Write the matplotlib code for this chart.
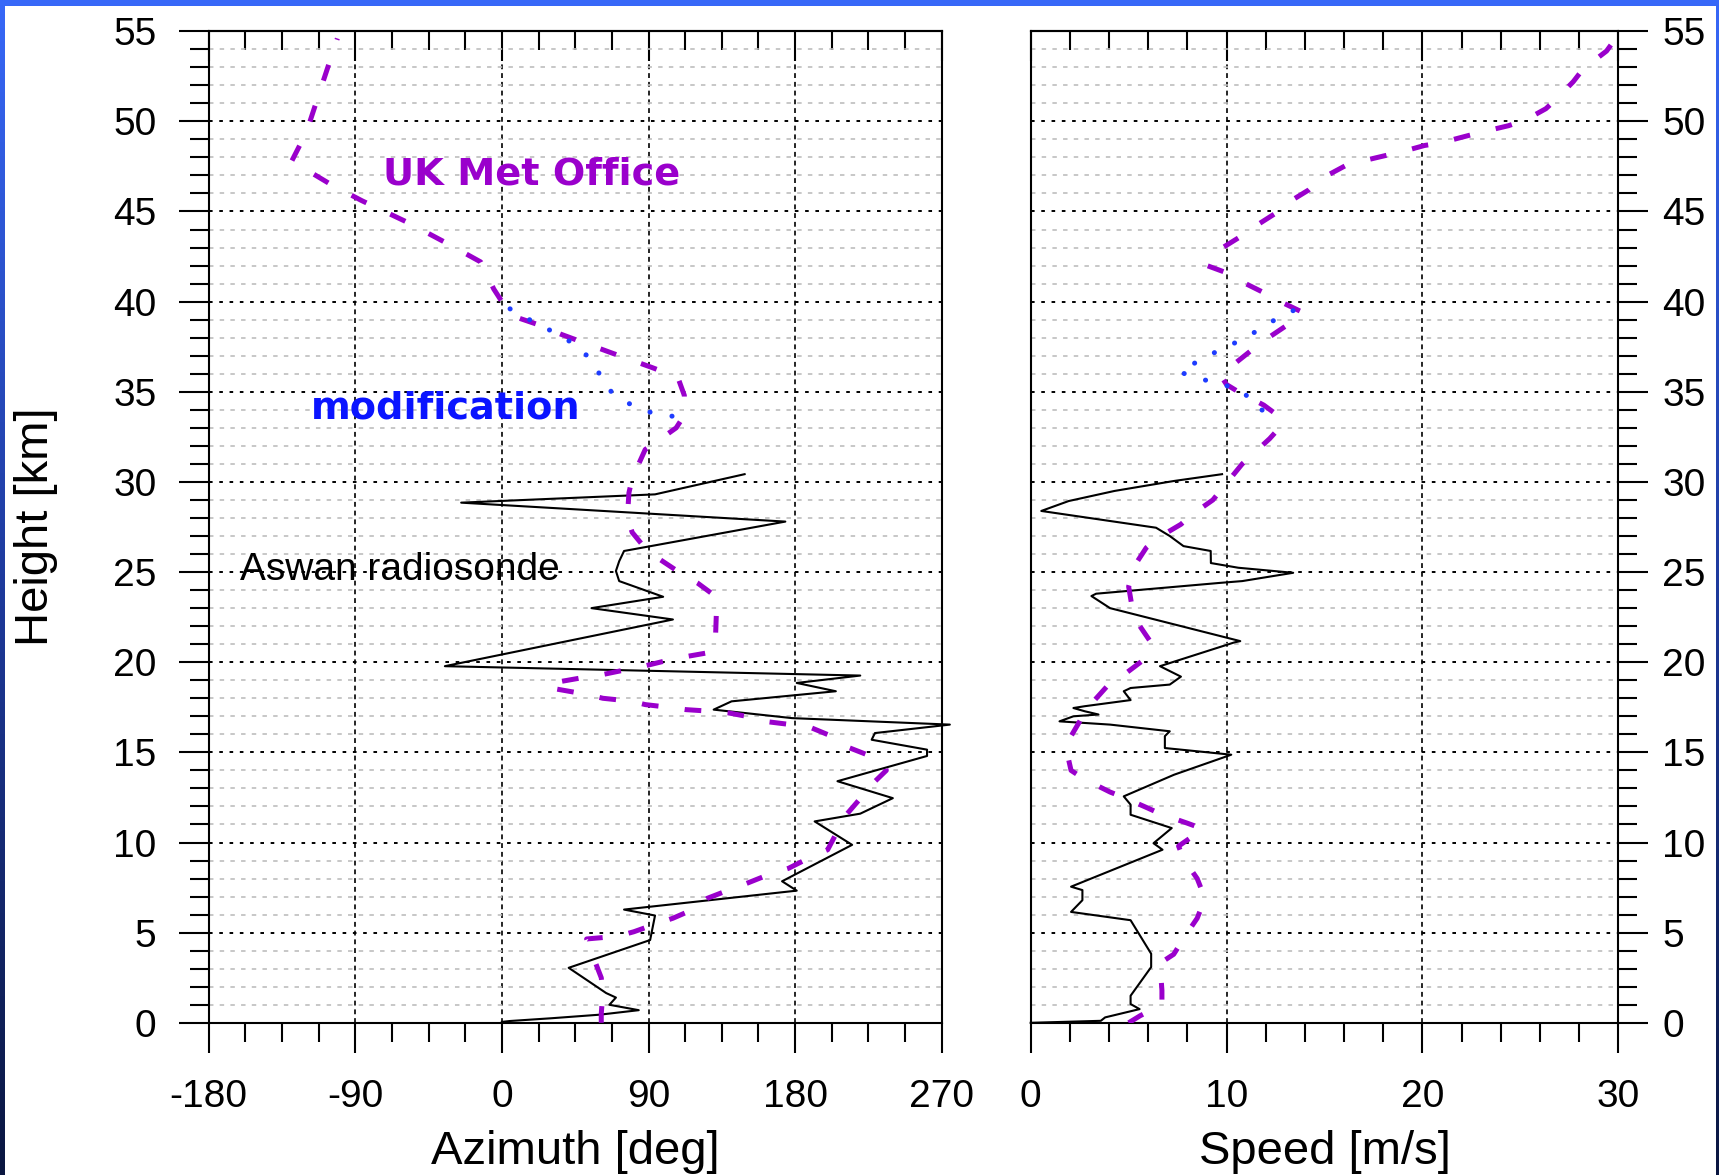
import numpy as np
import matplotlib
matplotlib.use("Agg")
import matplotlib.pyplot as plt
from matplotlib.ticker import MultipleLocator
from matplotlib.patches import Rectangle
from matplotlib.colors import LinearSegmentedColormap

plt.rcParams['lines.scale_dashes'] = False
plt.rcParams['font.family'] = ['Liberation Sans', 'DejaVu Sans']

# ---------------- data ----------------
# Aswan radiosonde: azimuth [deg] vs height [km]
sonde_height_az = [0.05, 0.1, 0.25, 0.45, 0.7, 1.0, 1.4, 1.65, 3.05, 4.59,
                   5.95, 6.28, 7.33, 7.85, 9.87, 11.17, 11.6, 12.46, 13.4, 14.8,
                   15.15, 15.7, 16.07, 16.54, 16.9, 17.37, 17.83, 18.39, 18.85, 19.26,
                   19.78, 22.37, 23.0, 23.63, 24.5, 25.06, 25.6, 26.17, 27.8, 28.85,
                   29.31, 30.43]
sonde_azimuth = [0, 5, 30, 60, 84, 66, 70, 64, 41, 91,
                 94, 75, 181, 172, 215, 192, 220, 240, 206, 261,
                 261, 227, 229, 275, 178, 130, 141, 205, 181, 220,
                 -35, 105, 55, 99, 72, 70, 72, 75, 174, -25,
                 94, 149]

# UK Met Office: azimuth [deg] vs height [km]
met_height_az = [0.0, 0.5, 1.7, 2.5, 3.9, 4.65, 4.8, 5.05, 5.5, 5.8,
                 6.35, 6.9, 7.46, 7.65, 8.3, 8.57, 9.3, 9.6, 10.8, 11.6,
                 12.65, 13.3, 14.0, 14.3, 14.7, 15.3, 15.8, 16.4, 16.5, 16.7,
                 16.9, 17.19, 17.27, 17.37, 17.46, 17.65, 17.83, 18.0, 18.2, 18.6,
                 18.85, 19.2, 19.3, 19.6, 19.8, 20.2, 20.55, 21.0, 23.6, 24.4,
                 24.8, 25.7, 26.1, 27.2, 28.0, 29.4, 30.2, 31.8, 32.1, 33.0,
                 33.7, 34.8, 35.8, 36.35, 37.2, 38.2, 38.7, 39.1, 40.0, 40.7,
                 42.2, 43.2, 44.4, 45.6, 46.5, 47.8, 49.4, 51.6, 54.6]
met_azimuth = [61, 61, 62, 61, 55, 52, 71, 81, 95, 105,
               119, 126, 142, 148, 166, 176, 192, 200, 207, 212,
               222, 228, 236, 235, 229, 212, 205, 189, 181, 163,
               156, 139, 130, 113, 106, 88, 80, 62, 53, 28,
               31, 53, 61, 77, 88, 106, 128, 131, 132, 120,
               112, 97, 90, 80, 77, 78, 80, 88, 93, 107,
               112, 112, 108, 92, 66, 36, 23, 10, 0, -5,
               -13, -33, -58, -86, -105, -129, -120, -112, -101]

# modification: azimuth [deg] vs height [km]
mod_height_az = [39.6, 39.3, 38.67, 38.1, 37.46, 36.44, 35.24, 34.5, 33.94, 33.67, 33.6]
mod_azimuth = [5, 10.3, 24.2, 36, 47.8, 57.4, 63.9, 74.6, 87.4, 101.4, 111]

# Aswan radiosonde: speed [m/s] vs height [km]
sonde_height_sp = [0.0, 0.11, 0.3, 0.76, 1.04, 1.5, 3.09, 3.83, 5.69, 6.15,
                   6.8, 7.36, 7.55, 9.6, 9.96, 10.8, 11.54, 12.1, 12.56, 13.76,
                   14.87, 15.24, 15.9, 16.17, 16.54, 16.72, 17.0, 17.1, 17.28, 17.46,
                   17.56, 17.9, 18.39, 18.57, 18.76, 19.2, 19.78, 21.1, 21.17, 23.0,
                   23.67, 23.8, 24.4, 24.5, 24.96, 25.24, 25.5, 26.17, 26.44, 27.0,
                   27.46, 28.39, 28.94, 29.5, 30.05, 30.43]
sonde_speed = [0.0, 3.58, 3.8, 5.56, 5.1, 5.1, 6.15, 6.15, 5.1, 2.06,
               2.64, 2.64, 2.06, 6.73, 6.27, 7.2, 5.1, 5.1, 4.75, 7.32,
               10.24, 6.85, 6.85, 7.1, 4.05, 1.47, 2.18, 3.46, 2.76, 2.18,
               2.76, 5.1, 4.75, 5.1, 7.1, 7.67, 6.6, 10.4, 10.7, 4.05,
               3.1, 3.34, 9.66, 10.8, 13.4, 10.6, 9.2, 9.19, 7.8, 7.1,
               6.4, 0.54, 1.94, 4.28, 7.3, 9.77]

# UK Met Office: speed [m/s] vs height [km]
met_height_sp = [0.0, 0.4, 1.0, 1.8, 3.3, 3.8, 5.0, 5.8, 6.9, 8.0,
                 9.1, 9.8, 10.75, 11.07, 11.6, 11.9, 12.5, 12.8, 13.5, 14.0,
                 15.15, 15.9, 17.2, 17.7, 18.85, 19.2, 20.24, 21.0, 22.2, 22.9,
                 24.2, 25.4, 26.35, 26.9, 27.65, 28.2, 29.0, 29.8, 31.0, 31.5,
                 32.4, 33.0, 33.35, 33.7, 34.26, 35.0, 35.4, 35.9, 36.55, 37.5,
                 37.9, 38.85, 39.4, 40.13, 40.5, 41.2, 41.6, 42.0, 42.9, 43.6,
                 44.07, 44.9, 45.4, 46.2, 46.8, 47.56, 47.74, 48.1, 48.3, 48.66,
                 48.8, 49.2, 49.4, 49.76, 50.1, 50.7, 51.2, 52.2, 52.9, 53.9,
                 54.8]
met_speed = [5.0, 5.6, 6.7, 6.7, 6.6, 7.3, 8.0, 8.5, 8.9, 8.5,
             7.8, 7.55, 8.8, 8.0, 6.6, 6.0, 4.75, 4.05, 2.76, 2.06,
             1.82, 2.06, 2.76, 3.1, 4.05, 4.63, 5.9, 6.2, 5.45, 5.2,
             5.0, 5.33, 5.9, 6.5, 7.67, 8.25, 9.3, 9.9, 10.8, 11.3,
             12.2, 12.7, 12.8, 12.6, 11.9, 10.6, 10.0, 9.7, 10.4, 11.5,
             12.0, 13.3, 13.9, 12.5, 11.9, 10.6, 10.0, 9.0, 9.66, 10.7,
             11.3, 12.5, 13.0, 14.2, 14.8, 16.1, 16.7, 18.1, 18.9, 20.1,
             20.9, 22.3, 23.0, 24.4, 25.3, 26.3, 26.8, 27.7, 28.2, 29.4,
             30.0]

# modification: speed [m/s] vs height [km]
mod_height_sp = [39.5, 39.3, 38.6, 37.9, 37.4, 36.8, 36.1, 35.8, 35.45, 35.1, 34.1, 33.7]
mod_speed = [13.4, 12.9, 11.9, 10.8, 9.8, 8.7, 7.6, 8.4, 9.6, 10.8, 11.5, 12.6]

az_ticks = [-180, -90, 0, 90, 180, 270]
az_labels = ['-180', '-90', '0', '90', '180', '270']
sp_ticks = [0, 10, 20, 30]
sp_labels = ['0', '10', '20', '30']
h_ticks = [0, 5, 10, 15, 20, 25, 30, 35, 40, 45, 50, 55]
h_labels = ['0', '5', '10', '15', '20', '25', '30', '35', '40', '45', '50', '55']

# ---------------- figure ----------------
W, H = 1719, 1175
fig = plt.figure(figsize=(W / 100, H / 100), dpi=100)
fig.patch.set_facecolor('white')

# blue gradient frame
bg = fig.add_axes([0, 0, 1, 1], zorder=-10)
cmap = LinearSegmentedColormap.from_list('frame', ['#0a1640', '#1e3a9c', '#3768f8'])
grad = np.linspace(0, 1, 256).reshape(-1, 1)
bg.imshow(grad, cmap=cmap, aspect='auto', extent=[0, 1, 0, 1], origin='lower')
bg.add_patch(Rectangle((5 / W, 0), (1716 - 5) / W, (H - 6) / H,
                       transform=bg.transAxes, facecolor='white', edgecolor='none'))
bg.set_xlim(0, 1)
bg.set_ylim(0, 1)
bg.axis('off')

bottom = (H - 1022.8) / H
height = 991.6 / H
axL = fig.add_axes([208.7 / W, bottom, 733.0 / W, height])
axR = fig.add_axes([1030.7 / W, bottom, 587.6 / W, height])

TICK_FS = 28
LABEL_FS = 34
MAJ_LEN = 21.6
MIN_LEN = 13.7
TW = 1.5

purple = '#9a00cc'
blue = '#0a14ff'
dotblue = '#1e3cff'


def style_axes(ax, xticks, xlabels, xminor, xlim, yside):
    ax.set_xlim(*xlim)
    ax.set_ylim(0, 55)
    ax.set_xticks(xticks)
    ax.set_xticklabels(xlabels)
    ax.xaxis.set_minor_locator(MultipleLocator(xminor))
    ax.set_yticks(h_ticks)
    ax.yaxis.set_minor_locator(MultipleLocator(1))
    for s in ax.spines.values():
        s.set_linewidth(1.5)
    ax.tick_params(axis='x', which='major', direction='out', length=MAJ_LEN,
                   width=TW, pad=19, labelsize=TICK_FS)
    ax.tick_params(axis='x', which='minor', direction='out', length=MIN_LEN, width=TW)
    if yside == 'left':
        ax.set_yticklabels(h_labels)
        ax.tick_params(axis='y', which='both', left=True, right=False,
                       labelleft=True, labelright=False, direction='out', width=TW)
        ax.tick_params(axis='y', which='major', length=MAJ_LEN, pad=16, labelsize=TICK_FS)
        ax.tick_params(axis='y', which='minor', length=MIN_LEN)
    else:
        ax.yaxis.tick_right()
        ax.set_yticklabels(h_labels)
        ax.tick_params(axis='y', which='both', left=False, right=True,
                       labelleft=False, labelright=True, direction='out', width=TW)
        ax.tick_params(axis='y', which='major', length=MAJ_LEN, pad=10, labelsize=TICK_FS)
        ax.tick_params(axis='y', which='minor', length=MIN_LEN)
    sec = ax.secondary_xaxis('top')
    sec.set_xticks(xticks)
    sec.xaxis.set_minor_locator(MultipleLocator(xminor))
    sec.tick_params(axis='x', which='major', direction='in', length=MAJ_LEN,
                    width=TW, labeltop=False)
    sec.tick_params(axis='x', which='minor', direction='in', length=MIN_LEN, width=TW)
    sec.spines['top'].set_linewidth(1.5)
    ax.set_axisbelow(True)
    ax.yaxis.grid(True, which='minor', color='#bdbdbd', linestyle=(0, (3.2, 4.5)), linewidth=1.2)
    ax.yaxis.grid(True, which='major', color='black', linestyle=(0, (2.6, 4.8)), linewidth=1.4)
    ax.xaxis.grid(True, which='major', color='black', linestyle=(0, (3.5, 2.8)), linewidth=1.2)


style_axes(axL, az_ticks, az_labels, 22.5, (-180, 270), 'left')
style_axes(axR, sp_ticks, sp_labels, 2, (0, 30), 'right')

# ---------------- azimuth panel ----------------
axL.plot(sonde_azimuth, sonde_height_az, color='black', lw=1.5, clip_on=False, zorder=3)
axL.plot(met_azimuth, met_height_az, color=purple, lw=3.6,
         linestyle=(0, (12, 19)), dash_capstyle='butt', zorder=4)
axL.plot(mod_azimuth, mod_height_az, color=dotblue, lw=3.6,
         linestyle=(0, (0.1, 16)), dash_capstyle='round', zorder=5)

axL.text(-73.3, 46.5, 'UK Met Office', color=purple, fontsize=27.5,
         fontweight='bold', family=['DejaVu Sans'], ha='left', va='baseline', zorder=6)
axL.text(-117.2, 33.52, 'modification', color=blue, fontsize=27.5,
         fontweight='bold', family=['DejaVu Sans'], ha='left', va='baseline', zorder=6)
axL.text(-160.8, 24.54, 'Aswan radiosonde', color='black', fontsize=28,
         ha='left', va='baseline', zorder=6)

axL.set_xlabel('Azimuth [deg]', fontsize=LABEL_FS)
axL.xaxis.set_label_coords(0.5, -0.13)
axL.xaxis.label.set_va('center')
axL.set_ylabel('Height [km]', fontsize=LABEL_FS)
axL.yaxis.set_label_coords(-0.2356, 0.5)
axL.yaxis.label.set_va('center')

# ---------------- speed panel ----------------
axR.plot(sonde_speed, sonde_height_sp, color='black', lw=1.5, clip_on=False, zorder=3)
axR.plot(met_speed, met_height_sp, color=purple, lw=3.6,
         linestyle=(0, (12, 19)), dash_capstyle='butt', zorder=4)
axR.plot(mod_speed, mod_height_sp, color=dotblue, lw=3.6,
         linestyle=(0, (0.1, 16)), dash_capstyle='round', zorder=5)

axR.set_xlabel('Speed [m/s]', fontsize=LABEL_FS)
axR.xaxis.set_label_coords(0.5, -0.13)
axR.xaxis.label.set_va('center')

fig.savefig('out.png', dpi=100)
